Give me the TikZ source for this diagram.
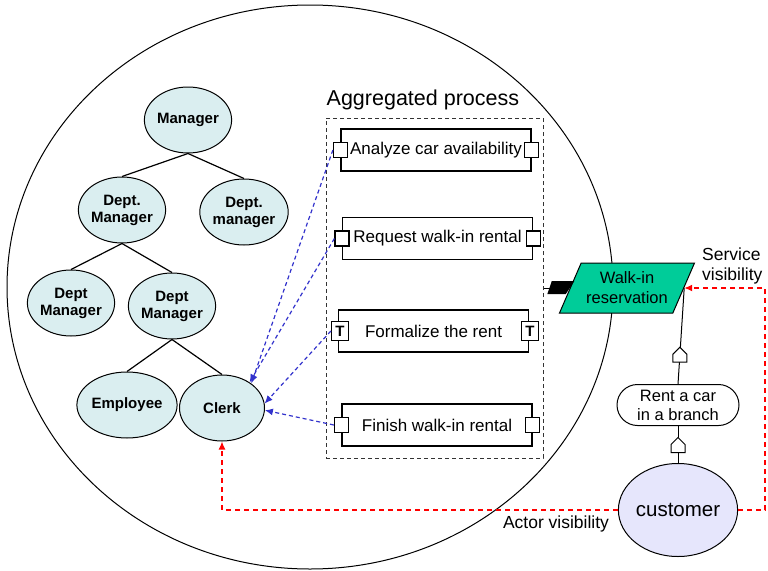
\documentclass[tikz,border=0pt]{standalone}
\usepackage{fontspec}
\setmainfont{Liberation Sans}
\usetikzlibrary{shapes,arrows.meta,positioning,calc}
\definecolor{orgfill}{RGB}{218,238,240}
\definecolor{actfill}{RGB}{230,230,252}
\definecolor{svcfill}{RGB}{0,204,153}
\definecolor{relblue}{RGB}{51,51,204}
\tikzset{
  org/.style={ellipse,draw,line width=1pt,fill=orgfill,minimum width=85pt,minimum height=66pt,inner sep=0pt,align=center,font=\fontsize{15}{17}\selectfont\bfseries},
  proc/.style={rectangle,draw,line width=1.1pt,fill=white,minimum width=190pt,minimum height=42pt,inner sep=0pt,font=\fontsize{17}{20}\selectfont},
  port/.style={rectangle,draw,line width=1.1pt,fill=white,minimum width=14pt,minimum height=15pt,inner sep=0pt},
  tport/.style={port,minimum width=17pt,minimum height=19pt,font=\fontsize{15}{15}\selectfont\bfseries},
  svc/.style={trapezium,trapezium left angle=56,trapezium right angle=124,trapezium stretches body,draw,line width=1pt,fill=svcfill,minimum width=135pt,minimum height=50pt,inner sep=0pt,align=center,font=\fontsize{16.5}{20}\selectfont},
  func/.style={rounded rectangle,draw,line width=1pt,fill=white,minimum width=122pt,minimum height=41pt,inner sep=0pt,align=center,font=\fontsize{16.5}{19}\selectfont},
  actor/.style={ellipse,draw,line width=1pt,fill=actfill,minimum width=113pt,minimum height=93pt,inner sep=0pt,font=\fontsize{20.5}{22}\selectfont},
  lbl/.style={inner sep=0pt,align=left,font=\fontsize{17.5}{20}\selectfont},
  tree/.style={line width=1.2pt},
  rel/.style={draw=relblue,line width=1.2pt,dash pattern=on 4pt off 3pt,-{Latex[length=8pt,width=7pt]}},
  vis/.style={draw=red,line width=1.3pt,dash pattern=on 5pt off 4pt,-{Latex[length=8pt,width=7pt]}},
  hmark/.pic={\draw[line width=1pt,fill=white] (-7,8) -- (-7,0) -- (0,-7) -- (7,0) -- (7,8) -- cycle;},
}
\begin{document}
\begin{tikzpicture}[x=1pt,y=-1pt]
  \useasboundingbox (0,0) rectangle (768,570);
  % organization unit
  \draw[line width=1pt] (310,287) ellipse [x radius=303pt, y radius=282pt];
  \node[org] (mgr) at (188,120) {Manager};
  \node[org] (dmA) at (122,210) {Dept.\\Manager};
  \node[org] (dmB) at (244,212) {Dept.\\manager};
  \node[org] (dmC) at (71,303) {Dept\\Manager};
  \node[org] (dmD) at (172,306) {Dept\\Manager};
  \node[org] (emp) at (127,405) {Employee};
  \node[org] (clerk) at (222,408) {Clerk};
  \draw[tree] (mgr.south) -- (dmA.north);
  \draw[tree] (mgr.south) -- (dmB.north);
  \draw[tree] (dmA.south) -- (dmC.north);
  \draw[tree] (dmA.south) -- (dmD.north);
  \draw[tree] (dmD.south) -- (emp.north);
  \draw[tree] (dmD.south) -- (clerk.north);

  % aggregated process
  \node[draw=black!80,line width=1pt,dash pattern=on 4pt off 3pt,minimum width=217pt,minimum height=340pt,inner sep=0pt] (agg) at (434.5,288) {};
  \node[anchor=base west,inner sep=0pt,font=\fontsize{21.5}{24}\selectfont] (agglbl) at ($(agg.north west)+(1,-12.5)$) {Aggregated process};
  \node[proc] (analyze) at (436,150) {Analyze car availability};
  \node[proc] (request) at (437.5,238.5) {Request walk-in rental};
  \node[proc] (formalize) at (433.5,331) {Formalize the rent};
  \node[proc] (finish) at (437,425) {Finish walk-in rental};
  \node[port] (analyzeL) at (analyze.west) {};
  \node[port] (analyzeR) at (analyze.east) {};
  \node[port] (requestL) at (request.west) {};
  \node[port] (requestR) at (request.east) {};
  \node[tport] (formalizeL) at ([xshift=2pt]formalize.west) {T};
  \node[tport] (formalizeR) at ([xshift=1pt]formalize.east) {T};
  \node[port] (finishL) at (finish.west) {};
  \node[port] (finishR) at (finish.east) {};

  % service, function, actor
  \node[svc] (walkin) at (627,288) {Walk-in\\reservation};
  \draw[line width=1pt] (agg.east |- walkin.west) -- ($(walkin.west)+(-20,0)$);
  \fill ($(walkin.west)+(-18,-7)$) -- ($(walkin.west)+(4.6,-7)$) -- ($(walkin.west)+(-4,6)$) -- ($(walkin.west)+(-22.4,6)$) -- cycle;
  \node[func] (rent) at (678,405) {Rent a car\\in a branch};
  \node[actor] (customer) at (678,510) {customer};
  \draw[line width=1pt] (walkin.east) -- (rent.north) coordinate[pos=0.69] (mk1);
  \draw[line width=1pt] (rent.south) -- (customer.north) coordinate[pos=0.5] (mk2);
  \pic at (mk1) {hmark};
  \pic at (mk2) {hmark};

  % relations
  \draw[rel] (analyzeL.west) -- (clerk.40);
  \draw[rel] (requestL.west) -- (clerk.43);
  \draw[rel] (formalizeL.west) -- (clerk.6);
  \draw[rel] (finishL.west) -- (clerk.-3);
  \draw[vis] (customer.west) -| (clerk.south);
  \draw[vis] (customer.east) -- ++(27,0) |- (walkin.east);
  \node[lbl,anchor=west] (svclbl) at (702,266) {Service\\visibility};
  \node[lbl] (actlbl) at (556,524) {Actor visibility};
\end{tikzpicture}
\end{document}
